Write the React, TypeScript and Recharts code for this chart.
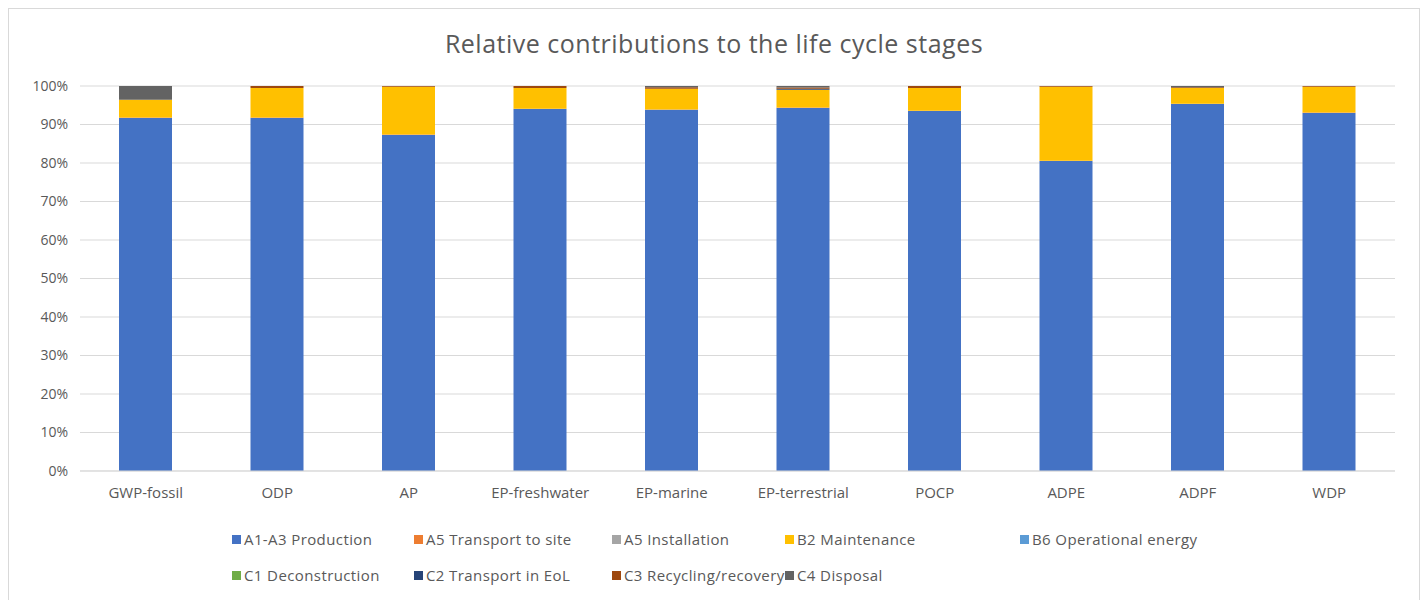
import React from "react";
import { BarChart, Bar, XAxis, YAxis, CartesianGrid, Legend } from "recharts";

const categories = ["GWP-fossil", "ODP", "AP", "EP-freshwater", "EP-marine", "EP-terrestrial", "POCP", "ADPE", "ADPF", "WDP"];
const a1a3 = [91.7, 91.7, 87.3, 94.0, 93.8, 94.3, 93.5, 80.5, 95.3, 93.0];
const a5transport = [0.1, 0.1, 0.1, 0.1, 0.1, 0.1, 0.1, 0.1, 0.1, 0.1];
const a5install = [0, 0, 0, 0, 0, 0, 0, 0, 0, 0];
const b2 = [4.6, 7.7, 12.4, 5.4, 5.4, 4.6, 5.9, 19.2, 4.1, 6.7];
const b6 = [0, 0, 0, 0, 0, 0, 0, 0, 0, 0];
const c1 = [0, 0, 0, 0, 0, 0, 0, 0, 0, 0];
const c2 = [0, 0, 0, 0, 0, 0.3, 0, 0, 0, 0];
const c3 = [0, 0.5, 0.2, 0.5, 0.4, 0.3, 0.5, 0.2, 0.2, 0.2];
const c4 = [3.6, 0, 0, 0, 0.3, 0.4, 0, 0, 0.3, 0];
const yTicks = [0, 10, 20, 30, 40, 50, 60, 70, 80, 90, 100];

const series = [
  { key: "a1a3", name: "A1-A3 Production", values: a1a3, color: "#4472C4" },
  { key: "a5t", name: "A5 Transport to site", values: a5transport, color: "#ED7D31" },
  { key: "a5i", name: "A5 Installation", values: a5install, color: "#A5A5A5" },
  { key: "b2", name: "B2 Maintenance", values: b2, color: "#FFC000" },
  { key: "b6", name: "B6 Operational energy", values: b6, color: "#5B9BD5" },
  { key: "c1", name: "C1 Deconstruction", values: c1, color: "#70AD47" },
  { key: "c2", name: "C2 Transport in EoL", values: c2, color: "#264478" },
  { key: "c3", name: "C3 Recycling/recovery", values: c3, color: "#9E480E" },
  { key: "c4", name: "C4 Disposal", values: c4, color: "#636363" },
];

const data = categories.map((c, i) => {
  const row: Record<string, any> = { name: c };
  series.forEach((s) => (row[s.key] = s.values[i]));
  return row;
});

const FONT = "'Open Sans', sans-serif";

const LegendContent = () => (
  <div
    style={{
      display: "grid",
      gridTemplateColumns: "182px 198px 173px 235px 230px",
      rowGap: 0,
      paddingTop: 20,
      paddingLeft: 212,
      fontFamily: FONT,
      fontSize: 15,
      letterSpacing: 0.4,
      color: "#595959",
    }}
  >
    {series.map((s) => (
      <div key={s.key} style={{ display: "flex", alignItems: "center", height: 36, whiteSpace: "nowrap" }}>
        <span style={{ display: "inline-block", flexShrink: 0, width: 9, height: 9, background: s.color, marginRight: 3 }} />
        {s.name}
      </div>
    ))}
  </div>
);

export default function App() {
  return (
    <div style={{ width: 1410, height: 600, border: "1px solid #d9d9d9", background: "#fff", position: "relative" }}>
      <div
        style={{
          position: "absolute",
          top: 17,
          left: 0,
          width: 1410,
          textAlign: "center",
          fontFamily: FONT,
          fontSize: 25,
          letterSpacing: 0.5,
          color: "#595959",
        }}
      >
        Relative contributions to the life cycle stages
      </div>
      <BarChart width={1410} height={590} data={data} margin={{ top: 77, right: 24, left: 11, bottom: 8 }} barSize={53}>
        <CartesianGrid vertical={false} stroke="#d9d9d9" />
        <XAxis
          dataKey="name"
          axisLine={{ stroke: "#d9d9d9" }}
          tickLine={false}
          height={30}
          tick={{ fontFamily: FONT, fontSize: 15, fill: "#595959" }}
          tickMargin={10}
        />
        <YAxis
          domain={[0, 100]}
          ticks={yTicks}
          width={60}
          axisLine={false}
          tickLine={false}
          tickFormatter={(v) => `${v}%`}
          tick={{ fontFamily: FONT, fontSize: 14, fill: "#595959" }}
          tickMargin={6}
        />
        <Legend verticalAlign="bottom" wrapperStyle={{ height: 90 }} content={() => <LegendContent />} />
        {series.map((s) => (
          <Bar key={s.key} dataKey={s.key} name={s.name} stackId="a" fill={s.color} isAnimationActive={false} />
        ))}
      </BarChart>
    </div>
  );
}
